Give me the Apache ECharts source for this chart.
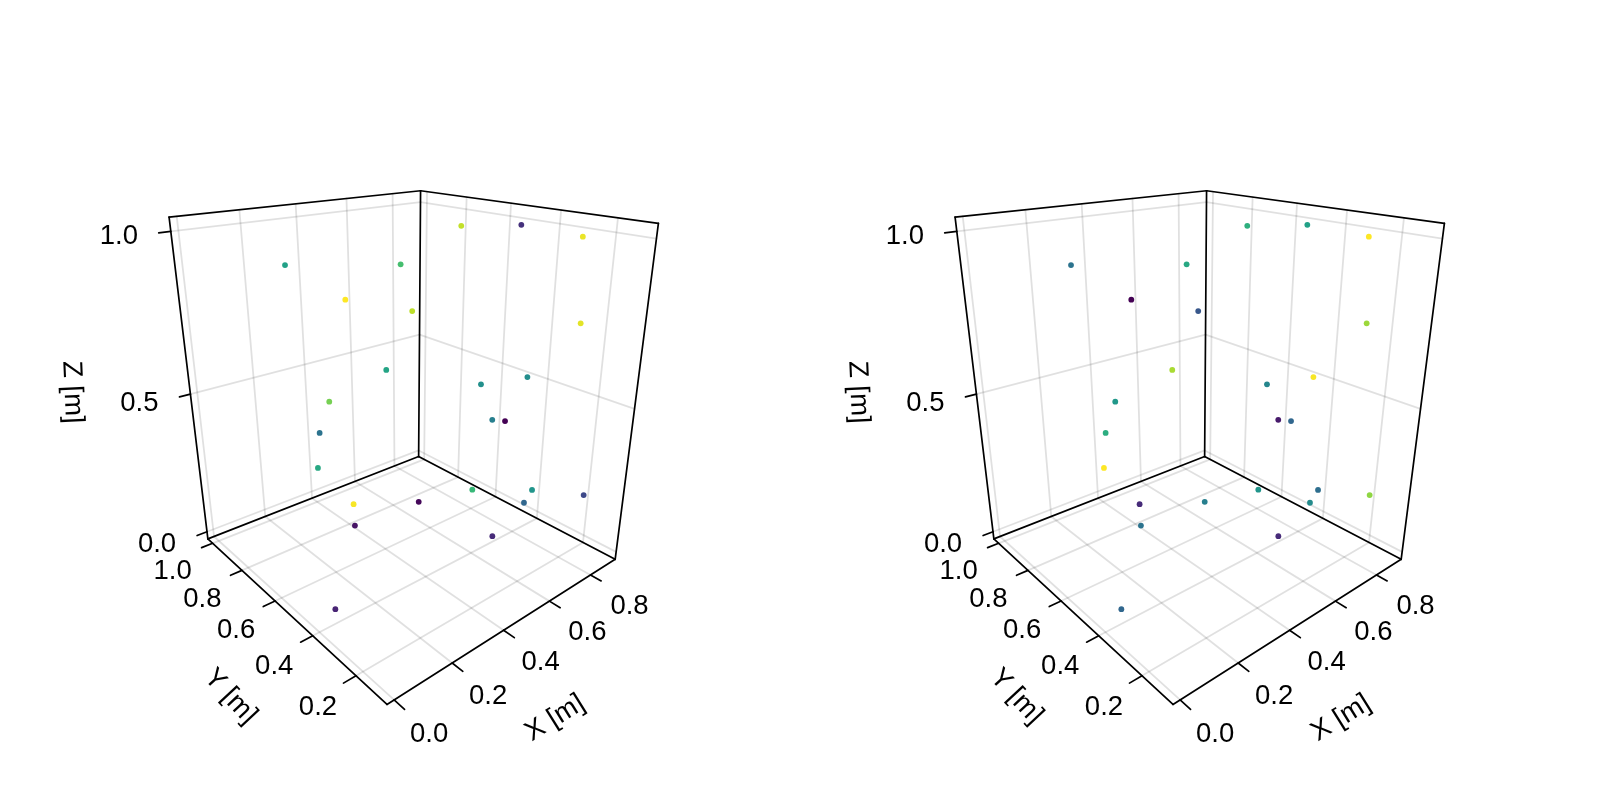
<!DOCTYPE html>
<html>
<head>
<meta charset="utf-8">
<title>Sensor positions in 3D</title>
<style>html,body{margin:0;padding:0;background:#fff}#chart{width:1600px;height:800px}</style>
<script src="https://cdn.jsdelivr.net/npm/echarts@6/dist/echarts.min.js"></script>
</head>
<body>
<div id="chart"></div>
<script>
// Sensor coordinates in metres
const xs = [0.347, 0.836, 0.582, 0.893, 0.763, 0.496, 0.448, 0.433, 0.492, 0.408, 0.686, 0.931, 0.931, 0.931, 0.931, 0.931, 0.931, 0.931, 0.931, 0.9025, 0.931, 0.931, 0.931, 0.726, 0.092];
const ys = [1.035, 1.035, 1.035, 1.035, 1.035, 1.035, 1.035, 1.035, 0.899, 0.779, 0.757, 0.822, 0.552, 0.313, 0.292, 0.698, 0.486, 0.635, 0.574, 0.6935, 0.431, 0.463, 0.217, 0.423, 0.453];
const zs = [0.852, 0.787, 0.698, 0.601, 0.394, 0.335, 0.225, 0.087, -0.028, -0.028, -0.028, 0.942, 0.978, 0.973, 0.713, 0.393, 0.482, 0.274, 0.290, -0.028, 0.073, 0.007, 0.146, -0.028, -0.028];

// Measured quantity at each sensor, scaled 0..1, for the two panels
const valuesA = [0.57, 0.70, 1.00, 0.90, 0.58, 0.79, 0.38, 0.60, 0.99, 0.05, 0.02, 0.91, 0.14, 0.97, 0.96, 0.50, 0.49, 0.43, 0.00, 0.67, 0.52, 0.33, 0.22, 0.12, 0.10];
const valuesB = [0.38, 0.60, 0.00, 0.27, 0.87, 0.53, 0.62, 1.00, 0.12, 0.38, 0.43, 0.63, 0.57, 1.00, 0.85, 0.46, 0.99, 0.07, 0.33, 0.52, 0.36, 0.48, 0.83, 0.12, 0.33];

// Axis ticks
const xTicks = [0, 0.2, 0.4, 0.6, 0.8];
const yTicks = [0.2, 0.4, 0.6, 0.8, 1.0];
const zTicks = [0, 0.5, 1.0];
const xTickLabels = ['0.0', '0.2', '0.4', '0.6', '0.8'];
const yTickLabels = ['0.2', '0.4', '0.6', '0.8', '1.0'];
const zTickLabels = ['0.0', '0.5', '1.0'];

// Extent of the plotted box
const xRange = [-0.0229, 0.9308];
const yRange = [0.0728, 1.0347];
const zRange = [-0.0283, 1.0401];

// Perspective camera for the unit box
const camera = [
  420.05323, -101.49171, -91.27199, 386.98322,
  29.29229, 35.71464, -490.81893, 704.44749,
  0.31191, 0.37346, -0.22478, 1
];

const viridis = ['#440154', '#482878', '#3e4a89', '#31688e', '#26828e', '#1f9e89', '#35b779', '#6ece58', '#b5de2b', '#fde725'];
const FONT = '27.5px "Liberation Sans", Arial, sans-serif';
const TICK_XY = 0.04;
const TICK_Z = 0.036;
const PANEL_SHIFT = 786;

// World coordinates to canvas-space coordinates of a panel
function project(x, y, z) {
  const a = (x - xRange[0]) / (xRange[1] - xRange[0]);
  const b = (y - yRange[0]) / (yRange[1] - yRange[0]);
  const c = (z - zRange[0]) / (zRange[1] - zRange[0]);
  const m = camera;
  const w = m[8] * a + m[9] * b + m[10] * c + m[11];
  return [(m[0] * a + m[1] * b + m[2] * c + m[3]) / w, (m[4] * a + m[5] * b + m[6] * c + m[7]) / w];
}
const seg = (p, q) => { const s = project(...p), e = project(...q); return [s[0], s[1], e[0], e[1]]; };

const [x0, x1] = xRange, [y0, y1] = yRange, [z0, z1] = zRange;

// Reference lines on the floor and the two back walls
const gridSegments = [];
xTicks.forEach(t => {
  gridSegments.push(seg([t, y0, z0], [t, y1, z0]), seg([t, y1, z0], [t, y1, z1]));
});
yTicks.forEach(t => {
  gridSegments.push(seg([x0, t, z0], [x1, t, z0]), seg([x1, t, z0], [x1, t, z1]));
});
zTicks.forEach(t => {
  gridSegments.push(seg([x0, y1, t], [x1, y1, t]), seg([x1, y1, t], [x1, y0, t]));
});

// Box outline, open towards the viewer, and the tick marks
const boxSegments = [
  seg([x0, y0, z0], [x1, y0, z0]), seg([x0, y0, z0], [x0, y1, z0]),
  seg([x0, y1, z0], [x1, y1, z0]), seg([x1, y1, z0], [x1, y0, z0]),
  seg([x0, y1, z0], [x0, y1, z1]), seg([x1, y1, z0], [x1, y1, z1]),
  seg([x1, y0, z0], [x1, y0, z1]),
  seg([x0, y1, z1], [x1, y1, z1]), seg([x1, y1, z1], [x1, y0, z1])
];
xTicks.forEach(t => boxSegments.push(seg([t, y0, z0], [t, y0 - TICK_XY, z0])));
yTicks.forEach(t => boxSegments.push(seg([x0, t, z0], [x0 - TICK_XY, t, z0])));
zTicks.forEach(t => boxSegments.push(seg([x0, y1, t], [x0 - TICK_Z, y1, t])));

// Tick labels follow their axis at a slowly changing distance
const shifted = (p, dx, dy) => [p[0] + dx, p[1] + dy];
const textItems = [];
xTicks.forEach((t, i) => textItems.push({ text: xTickLabels[i], pos: shifted(project(t, y0, z0), 37 + (t - 0.4) * 5, 31 + (0.8 - t) * 4), angle: 0 }));
yTicks.forEach((t, i) => textItems.push({ text: yTickLabels[i], pos: shifted(project(x0, t, z0), -40 + (1 - t) * 2.5, 28 + (1 - t) * 4), angle: 0 }));
zTicks.forEach((t, i) => textItems.push({ text: zTickLabels[i], pos: shifted(project(x0, y1, t), -50 - 2 * t, 13 - 8 * t), angle: 0 }));
textItems.push({ text: 'X [m]', pos: shifted(project((x0 + x1) / 2, y0, z0), 38.6, 96), angle: 32 });
textItems.push({ text: 'Y [m]', pos: shifted(project(x0, (y0 + y1) / 2, z0), -53, 88), angle: -47 });
textItems.push({ text: 'Z [m]', pos: shifted(project(x0, y1, (z0 + z1) / 2), -118, 0), angle: -87.5 });

const points = xs.map((x, i) => project(x, ys[i], zs[i]));

function segmentSeries(panel, segments, stroke, width, z) {
  return {
    type: 'custom', xAxisIndex: panel, yAxisIndex: panel, clip: false, silent: true, z,
    encode: { x: [0, 2], y: [1, 3] },
    data: segments,
    renderItem(params, api) {
      const a = api.coord([api.value(0), api.value(1)]);
      const b = api.coord([api.value(2), api.value(3)]);
      return {
        type: 'line',
        shape: { x1: a[0], y1: a[1], x2: b[0], y2: b[1] },
        style: { stroke, lineWidth: width, lineCap: 'round', fill: null }
      };
    }
  };
}

function textSeries(panel) {
  return {
    type: 'custom', xAxisIndex: panel, yAxisIndex: panel, clip: false, silent: true, z: 6,
    encode: { x: 0, y: 1 },
    data: textItems.map(t => t.pos),
    renderItem(params, api) {
      const item = textItems[params.dataIndex];
      const c = api.coord([api.value(0), api.value(1)]);
      return {
        type: 'text', x: c[0], y: c[1], rotation: item.angle * Math.PI / 180,
        style: { text: item.text, x: 0, y: 0, align: 'center', verticalAlign: 'middle', font: FONT, fill: '#000' }
      };
    }
  };
}

function pointSeries(panel, values) {
  return {
    type: 'scatter', xAxisIndex: panel, yAxisIndex: panel, clip: false, silent: true, z: 5,
    symbolSize: 5.8,
    itemStyle: { opacity: 1 },
    data: points.map((p, i) => [p[0], p[1], values[i]]),
    encode: { x: 0, y: 1 }
  };
}

const series = [pointSeries(0, valuesA), pointSeries(1, valuesB)];
[0, 1].forEach(panel => {
  series.push(
    segmentSeries(panel, gridSegments, 'rgba(0,0,0,0.12)', 1.8, 2),
    segmentSeries(panel, boxSegments, '#000', 1.7, 4),
    textSeries(panel)
  );
});

const chart = echarts.init(document.getElementById('chart'), null, { renderer: 'canvas' });
chart.setOption({
  animation: false,
  backgroundColor: '#fff',
  grid: [
    { left: 0, top: 0, width: 800, height: 800 },
    { left: PANEL_SHIFT, top: 0, width: 800, height: 800 }
  ],
  xAxis: [0, 1].map(i => ({ type: 'value', gridIndex: i, min: 0, max: 800, show: false })),
  yAxis: [0, 1].map(i => ({ type: 'value', gridIndex: i, min: 0, max: 800, inverse: true, show: false })),
  visualMap: [0, 1].map(i => ({
    type: 'continuous', show: false, seriesIndex: i, dimension: 2, min: 0, max: 1,
    inRange: { color: viridis }
  })),
  series
});
</script>
</body>
</html>
